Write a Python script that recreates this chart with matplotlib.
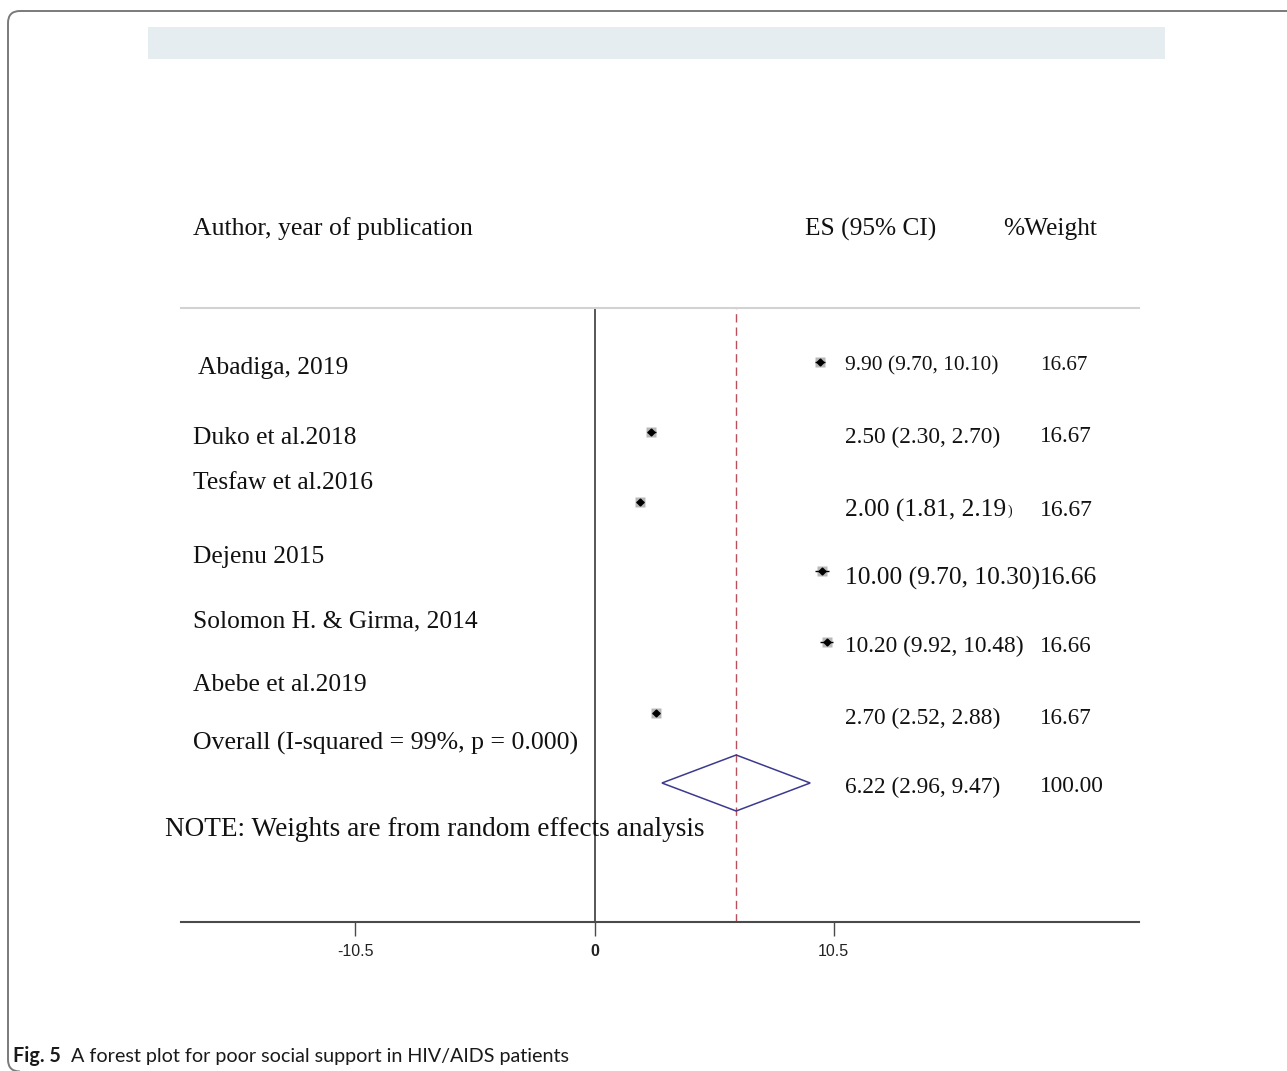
import matplotlib
matplotlib.use('Agg')
import matplotlib.pyplot as plt
from matplotlib.patches import Polygon, Rectangle, PathPatch
from matplotlib.path import Path
from matplotlib.transforms import IdentityTransform

# ---------------- data ----------------
studies = [" Abadiga, 2019", "Duko et al.2018", "Tesfaw et al.2016", "Dejenu 2015",
           "Solomon H. & Girma, 2014", "Abebe et al.2019"]
es = [9.90, 2.50, 2.00, 10.00, 10.20, 2.70]
ci_low = [9.70, 2.30, 1.81, 9.70, 9.92, 2.52]
ci_high = [10.10, 2.70, 2.19, 10.30, 10.48, 2.88]
weights = [16.67, 16.67, 16.67, 16.66, 16.66, 16.67]
overall_label = "Overall (I-squared = 99%, p = 0.000)"
overall_es = 6.22
overall_low = 2.96
overall_high = 9.47
overall_weight = 100.00
tick_values = [-10.5, 0, 10.5]
tick_labels = ["-10.5", "0", "10.5"]
header_left = "Author, year of publication"
header_es = "ES (95% CI)"
header_w = "%Weight"
note = "NOTE: Weights are from random effects analysis"
caption_bold = "Fig. 5"
caption_text = "A forest plot for poor social support in HIV/AIDS patients"

# ---------------- layout ----------------
W, H = 1287, 1071
SERIF = ['Liberation Serif', 'DejaVu Serif']
fig = plt.figure(figsize=(W / 100, H / 100), dpi=100)
fig.patch.set_facecolor('white')

def fx(px):
    return px / W

def fy(py):
    return 1 - py / H

# open frame (top and left sides, rounded corners), display pixel coords
fl, ft, fb, r = 8, H - 11, -0.5, 12
verts = [(W + 0.5, ft), (fl + r, ft), (fl, ft), (fl, ft - r),
         (fl, fb + r), (fl, fb), (fl + r, fb)]
codes = [Path.MOVETO, Path.LINETO, Path.CURVE3, Path.CURVE3,
         Path.LINETO, Path.CURVE3, Path.CURVE3]
frame = PathPatch(Path(verts, codes), transform=IdentityTransform(), fill=False,
                  edgecolor='#7a7a7a', linewidth=1.4)
fig.patches.append(frame)
band = Rectangle((148, H - 59), 1165 - 148, 32, transform=IdentityTransform(),
                 facecolor='#e6edf0', edgecolor='none')
fig.patches.append(band)

# plot axes
ax_left, ax_right, ax_top, ax_bottom = 181, 1139, 308, 922
ax = fig.add_axes([fx(ax_left), fy(ax_bottom), fx(ax_right) - fx(ax_left),
                   fy(ax_top) - fy(ax_bottom)])
ax.set_facecolor('none')
ax.set_xlim(-18.16, 23.91)
ax.set_ylim(ax_bottom, ax_top)
for s in ['left', 'right']:
    ax.spines[s].set_visible(False)
ax.spines['top'].set_color('#d2d2d2')
ax.spines['top'].set_linewidth(1.5)
ax.spines['bottom'].set_color('#4a4a4a')
ax.spines['bottom'].set_linewidth(1.5)
ax.set_yticks([])
ax.set_xticks(tick_values)
ax.set_xticklabels(tick_labels)
ax.tick_params(axis='x', length=10, width=1, color='#4a4a4a', pad=6,
               labelsize=11.5, labelcolor='#222222')
for lab in ax.get_xticklabels():
    lab.set_family(['Liberation Sans Narrow', 'Liberation Sans', 'DejaVu Sans'])
    if lab.get_text() == "0":
        lab.set_fontweight('bold')

ax.axvline(0, color='#3a3a3a', lw=1.2, zorder=1)
ax.axvline(overall_es, color='#b9505a', lw=1.0, dashes=(6, 3.6), zorder=1)

# rows
name_y = [368, 438, 483, 557, 621, 685]
point_y = [362, 431.5, 502, 571, 642, 712.5]
ci_y = [366, 437, 510, 578, 646, 718]
ci_size = [15.4, 16.8, 18.4, 18.4, 16.8, 16.8]
w_size = [15.2, 16.6, 17.0, 18.4, 16.6, 16.6]

ax.plot(es, point_y, 's', ms=7, color='#b8b8b8', mec='none', zorder=3)
ax.hlines(point_y, ci_low, ci_high, color='black', lw=1, zorder=4)
ax.plot(es, point_y, 'D', ms=3.5, color='black', zorder=5)

yc, half = 783, 28
dia = Polygon([[overall_low, yc], [overall_es, yc - half], [overall_high, yc],
               [overall_es, yc + half]], closed=True, fill=False,
              edgecolor='#3c3a8e', lw=1.1, zorder=4)
ax.add_patch(dia)

tc = '#111111'
fig.text(fx(193), fy(229), header_left, family=SERIF, fontsize=18.5, va='center', color=tc)
fig.text(fx(805), fy(229), header_es, family=SERIF, fontsize=18.3, va='center', color=tc)
fig.text(fx(1003), fy(229), header_w, family=SERIF, fontsize=18.3, va='center', color=tc)

fig.canvas.draw()
renderer = fig.canvas.get_renderer()

for i, name in enumerate(studies):
    fig.text(fx(193), fy(name_y[i]), name, family=SERIF, fontsize=18.4, va='center', color=tc)
    label = f"{es[i]:.2f} ({ci_low[i]:.2f}, {ci_high[i]:.2f})"
    if i == 2:
        t = fig.text(fx(845), fy(ci_y[i]), label[:-1], family=SERIF, fontsize=ci_size[i],
                     va='center', color=tc)
        bb = t.get_window_extent(renderer)
        fig.text((bb.x1 + 1) / W, bb.y0 / H + 0.006, label[-1], family=SERIF, fontsize=10,
                 va='baseline', color=tc)
    else:
        fig.text(fx(845), fy(ci_y[i]), label, family=SERIF, fontsize=ci_size[i],
                 va='center', color=tc)
    fig.text(fx(1040), fy(ci_y[i]), f"{weights[i]:.2f}", family=SERIF, fontsize=w_size[i],
             va='center', color=tc)

fig.text(fx(193), fy(743), overall_label, family=SERIF, fontsize=18.6, va='center', color=tc)
fig.text(fx(845), fy(787), f"{overall_es:.2f} ({overall_low:.2f}, {overall_high:.2f})",
         family=SERIF, fontsize=16.8, va='center', color=tc)
fig.text(fx(1040), fy(787), f"{overall_weight:.2f}", family=SERIF, fontsize=16.8,
         va='center', color=tc)
fig.text(fx(165), fy(830), note, family=SERIF, fontsize=19.6, va='center', color=tc)

# caption
CAP = ['Lato', 'DejaVu Sans']
c1 = fig.text(fx(13), fy(1062), caption_bold, family=CAP, fontweight='bold',
              fontsize=14.2, va='baseline', color='#1a1a1a')
bb = c1.get_window_extent(renderer)
fig.text((bb.x1 + 10) / W, fy(1062), caption_text, family=CAP, fontsize=14.2,
         va='baseline', color='#1a1a1a')

fig.savefig('out.png', dpi=100)
